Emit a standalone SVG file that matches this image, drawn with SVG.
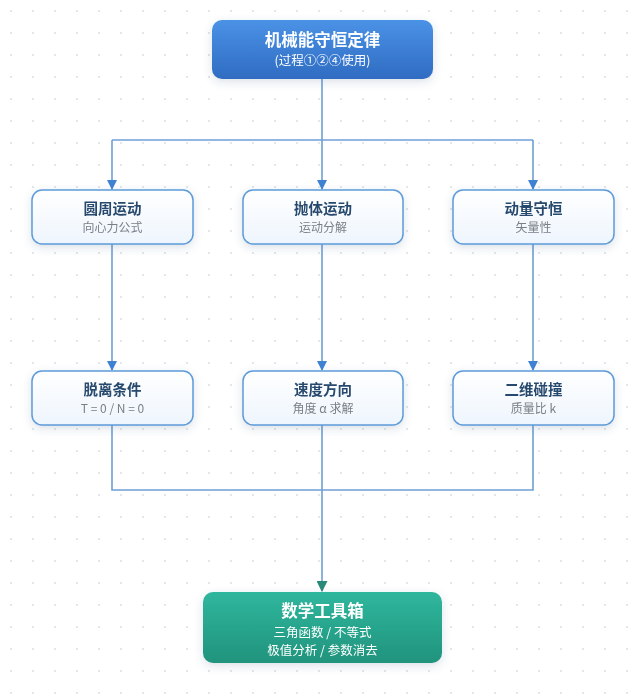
<svg xmlns="http://www.w3.org/2000/svg" width="644" height="699" viewBox="0 0 644 699">
<defs>
<pattern id="dots" x="0" y="0" width="22" height="22" patternUnits="userSpaceOnUse">
<circle cx="11" cy="11" r="0.9" fill="#d6dbe0"/>
</pattern>
<linearGradient id="gBlue" x1="0" y1="0" x2="0" y2="1">
<stop offset="0" stop-color="#4a92e6"/>
<stop offset="1" stop-color="#2f6cc2"/>
</linearGradient>
<linearGradient id="gGreen" x1="0" y1="0" x2="0" y2="1">
<stop offset="0" stop-color="#2fb79d"/>
<stop offset="1" stop-color="#21937d"/>
</linearGradient>
<linearGradient id="gLight" x1="0" y1="0" x2="0" y2="1">
<stop offset="0" stop-color="#ffffff"/>
<stop offset="1" stop-color="#eef5fd"/>
</linearGradient>
<filter id="shadow" x="-20%" y="-30%" width="140%" height="170%">
<feDropShadow dx="0" dy="3" stdDeviation="4" flood-color="#3a5a80" flood-opacity="0.18"/>
</filter>
<marker id="arrB" viewBox="0 0 10 10" refX="9" refY="5" markerWidth="10" markerHeight="10" markerUnits="userSpaceOnUse" orient="auto">
<path d="M0,0 L10,5 L0,10 Z" fill="#3f82d2"/>
</marker>
<marker id="arrG" viewBox="0 0 10 10" refX="9" refY="5" markerWidth="11" markerHeight="11" markerUnits="userSpaceOnUse" orient="auto">
<path d="M0,0 L10,5 L0,10 Z" fill="#2a8a7a"/>
</marker>
</defs>
<style>
.line{fill:none;stroke:#6f9fd6;stroke-width:1.6}
.box{fill:url(#gLight);stroke:#5e9ad9;stroke-width:1.5}
.t{font-family:"Noto Sans CJK SC","Noto Sans",sans-serif;font-weight:700;font-size:14.5px;fill:#27496d;text-anchor:middle}
.s{font-family:"Noto Sans CJK SC","Noto Sans",sans-serif;font-size:12px;fill:#7a7f86;text-anchor:middle}
.tw{font-family:"Noto Sans CJK SC","Noto Sans",sans-serif;font-weight:700;font-size:16.5px;fill:#ffffff;text-anchor:middle}
.sw{font-family:"Noto Sans CJK SC","Noto Sans",sans-serif;font-size:12.5px;fill:#ffffff;text-anchor:middle}
</style>
<rect width="644" height="699" fill="#ffffff"/>
<rect width="644" height="699" fill="url(#dots)"/>

<g id="connectors">
<path class="line" d="M322,79 V140"/>
<path class="line" d="M112,140 H533"/>
<path class="line" d="M112,140 V189" marker-end="url(#arrB)"/>
<path class="line" d="M322,140 V189" marker-end="url(#arrB)"/>
<path class="line" d="M533,140 V189" marker-end="url(#arrB)"/>
<path class="line" d="M112,244 V370" marker-end="url(#arrB)"/>
<path class="line" d="M322,244 V370" marker-end="url(#arrB)"/>
<path class="line" d="M533,244 V370" marker-end="url(#arrB)"/>
<path class="line" d="M112,425 V490 H533 V425"/>
<path class="line" d="M322,425 V591" marker-end="url(#arrG)"/>
</g>

<g id="n-top" filter="url(#shadow)">
<rect x="212" y="20" width="221" height="59" rx="10" fill="url(#gBlue)"/>
<text class="tw" x="322.5" y="46">机械能守恒定律</text>
<text class="sw" x="322.5" y="65">(过程①②④使用)</text>
</g>

<g id="n-circular" filter="url(#shadow)">
<rect class="box" x="32" y="190" width="161" height="54" rx="10"/>
<text class="t" x="112.5" y="214">圆周运动</text>
<text class="s" x="112.5" y="232">向心力公式</text>
</g>
<g id="n-projectile" filter="url(#shadow)">
<rect class="box" x="243" y="190" width="160" height="54" rx="10"/>
<text class="t" x="323" y="214">抛体运动</text>
<text class="s" x="323" y="232">运动分解</text>
</g>
<g id="n-momentum" filter="url(#shadow)">
<rect class="box" x="453" y="190" width="161" height="54" rx="10"/>
<text class="t" x="533.5" y="214">动量守恒</text>
<text class="s" x="533.5" y="232">矢量性</text>
</g>

<g id="n-detach" filter="url(#shadow)">
<rect class="box" x="32" y="371" width="161" height="54" rx="10"/>
<text class="t" x="112.5" y="395">脱离条件</text>
<text class="s" x="112.5" y="413">T = 0 / N = 0</text>
</g>
<g id="n-velocity" filter="url(#shadow)">
<rect class="box" x="243" y="371" width="160" height="54" rx="10"/>
<text class="t" x="323" y="395">速度方向</text>
<text class="s" x="323" y="413">角度 α 求解</text>
</g>
<g id="n-collision" filter="url(#shadow)">
<rect class="box" x="453" y="371" width="161" height="54" rx="10"/>
<text class="t" x="533.5" y="395">二维碰撞</text>
<text class="s" x="533.5" y="413">质量比 k</text>
</g>

<g id="n-math" filter="url(#shadow)">
<rect x="203" y="592" width="239" height="71" rx="10" fill="url(#gGreen)"/>
<text class="tw" x="322.5" y="617">数学工具箱</text>
<text class="sw" x="322.5" y="637">三角函数 / 不等式</text>
<text class="sw" x="322.5" y="655">极值分析 / 参数消去</text>
</g>
</svg>
